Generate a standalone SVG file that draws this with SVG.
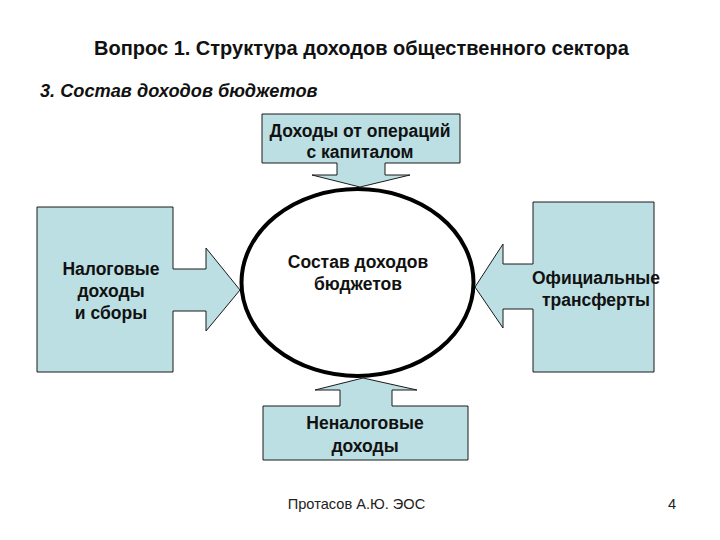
<svg xmlns="http://www.w3.org/2000/svg" width="720" height="540" viewBox="0 0 720 540">
<style>
.box{fill:#bcdfe3;stroke:#1a1a1a;stroke-width:1}
.t{font-family:"Liberation Sans",Arial,sans-serif;font-size:17.5px;font-weight:bold;fill:#111;text-anchor:middle}
.h{font-family:"Liberation Sans",Arial,sans-serif;font-weight:bold;fill:#111}
</style>
<rect width="720" height="540" fill="#fff"/>
<text class="h" x="361.5" y="55" font-size="20" text-anchor="middle">Вопрос 1. Структура доходов общественного сектора</text>
<text class="h" x="40" y="97" font-size="18.2" font-style="italic">3. Состав доходов бюджетов</text>
<g id="connectors"></g>
<g id="node-capital">
<polygon class="box" points="262,114 460,114 460,163 385,163 385,175 410,175 360,187 312,175 337,175 337,163 262,163"/>
<text class="t" x="360" y="137">Доходы от операций</text>
<text class="t" x="360" y="158">с капиталом</text>
</g>
<g id="node-tax">
<polygon class="box" points="37,207 173,207 173,269 206,269 206,248 240,290 206,331 206,311 173,311 173,372 37,372"/>
<text class="t" x="111" y="275">Налоговые</text>
<text class="t" x="111" y="297">доходы</text>
<text class="t" x="111" y="319">и сборы</text>
</g>
<g id="node-transfers">
<polygon class="box" points="533,202 654,202 654,372 533,372 533,309 503,309 503,328 475,287 503,244 503,264 533,264"/>
<text class="t" x="596" y="284">Официальные</text>
<text class="t" x="596" y="306">трансферты</text>
</g>
<g id="node-nontax">
<polygon class="box" points="263,460 468,460 468,406 392,406 392,390 417,390 363,378 315,390 340,390 340,406 263,406"/>
<text class="t" x="365" y="429">Неналоговые</text>
<text class="t" x="365" y="452">доходы</text>
</g>
<g id="node-center">
<ellipse cx="357.5" cy="282.5" rx="116" ry="93.5" fill="#fff" stroke="#000" stroke-width="4"/>
<text class="t" x="358" y="268">Состав доходов</text>
<text class="t" x="358" y="290">бюджетов</text>
</g>
<text x="356.5" y="509" font-family="'Liberation Sans',Arial,sans-serif" font-size="14.6" fill="#222" text-anchor="middle">Протасов А.Ю. ЭОС</text>
<text x="672" y="509" font-family="'Liberation Sans',Arial,sans-serif" font-size="14.6" fill="#222" text-anchor="middle">4</text>
</svg>
